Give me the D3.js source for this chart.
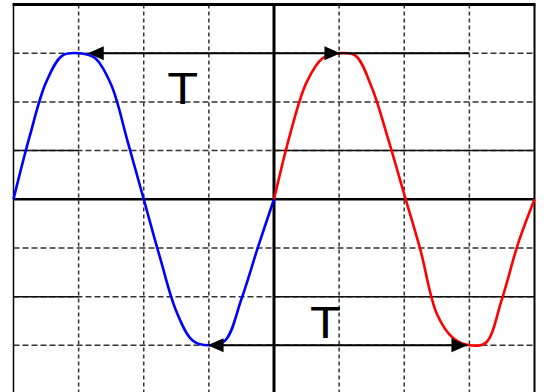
<!DOCTYPE html>
<html>
<head>
<meta charset="utf-8">
<script src="https://cdn.jsdelivr.net/npm/d3@7"></script>
<style>
  body { margin: 0; background: #fff; }
  svg { display: block; }
</style>
</head>
<body>
<svg id="chart"></svg>
<script>
// positions in grid divisions: x 0..8, y -4..4
const waveX = [0, 0.25, 0.5, 0.75, 1, 1.25, 1.5, 1.75, 2, 2.25, 2.5, 2.75, 3, 3.25, 3.5, 3.75, 4];
const blueY = [0, 1.3, 2.4, 2.95, 3, 2.9, 2.35, 1.2, 0, -1.2, -2.3, -2.9, -3, -2.9, -2.05, -1.0, 0];
const redY  = [0, 1.35, 2.4, 2.9, 3, 2.95, 2.3, 1.25, 0.1, -1.05, -2.35, -2.85, -3, -2.95, -2.05, -0.9, 0];
const redOffset = 4;

const gridCols = [1, 2, 3, 5, 6, 7];
const gridRows = [-3, -2, -1, 1, 2, 3];
const solidRows = [1, -2];
const solidSpans = [[0, 1], [4, 8]];

// period arrows: [tipLeft, tipRight, lineEnd]
const arrowTop = [1.14, 5.02, 7];
const arrowBottom = [2.98, 6.97, 6.97];
const labels = ["T", "T"];

const width = 544, height = 392;
const svg = d3.select("#chart").attr("width", width).attr("height", height);

const x = d3.scaleLinear().domain([0, 8]).range([13.5, 534.5]);
const y = d3.scaleLinear().domain([-4, 4]).range([394, 4.5]);

const g = svg.append("g");

// dashed grid
g.selectAll(".vgrid").data(gridCols).enter().append("line")
  .attr("x1", d => x(d)).attr("x2", d => x(d))
  .attr("y1", y(4)).attr("y2", height)
  .attr("stroke", "#333").attr("stroke-width", 1.5)
  .attr("stroke-dasharray", "4,3");

g.selectAll(".hgrid").data(gridRows).enter().append("line")
  .attr("x1", x(0)).attr("x2", x(8))
  .attr("y1", d => y(d)).attr("y2", d => y(d))
  .attr("stroke", "#333").attr("stroke-width", 1.5)
  .attr("stroke-dasharray", "6,3");

// solid pieces of some rows
solidRows.forEach(r => {
  g.selectAll(null).data(solidSpans).enter().append("line")
    .attr("x1", d => x(d[0])).attr("x2", d => x(d[1]))
    .attr("y1", y(r)).attr("y2", y(r))
    .attr("stroke", "#111").attr("stroke-width", 1.5);
});

// axes through centre
g.append("line")
  .attr("x1", x(0)).attr("x2", x(8)).attr("y1", y(0)).attr("y2", y(0))
  .attr("stroke", "#000").attr("stroke-width", 2.5);
g.append("line")
  .attr("x1", x(4)).attr("x2", x(4)).attr("y1", y(4)).attr("y2", height)
  .attr("stroke", "#000").attr("stroke-width", 3);

// frame
g.append("line")
  .attr("x1", x(0)).attr("x2", x(0)).attr("y1", y(4)).attr("y2", height)
  .attr("stroke", "#000").attr("stroke-width", 1.5);
g.append("line")
  .attr("x1", x(8)).attr("x2", x(8)).attr("y1", y(4)).attr("y2", height)
  .attr("stroke", "#000").attr("stroke-width", 2);
g.append("line")
  .attr("x1", x(0) - 1).attr("x2", x(8) + 1).attr("y1", y(4)).attr("y2", y(4))
  .attr("stroke", "#000").attr("stroke-width", 3);

// waves
const line = d3.line()
  .x(d => x(d[0])).y(d => y(d[1]))
  .curve(d3.curveCatmullRom.alpha(0.5));

g.append("path")
  .datum(waveX.map((v, i) => [v, blueY[i]]))
  .attr("d", line)
  .attr("fill", "none").attr("stroke", "#0000ff").attr("stroke-width", 2.6);

g.append("path")
  .datum(waveX.map((v, i) => [v + redOffset, redY[i]]))
  .attr("d", line)
  .attr("fill", "none").attr("stroke", "#ff0000").attr("stroke-width", 2.6);

// arrows
function arrowHead(tip, level, dir) {
  const tx = x(tip), ty = y(level);
  const len = 16, half = 7;
  g.append("path")
    .attr("d", `M${tx},${ty} L${tx + dir * len},${ty - half} L${tx + dir * len},${ty + half} Z`)
    .attr("fill", "#000");
}

function periodArrow(a, level) {
  g.append("line")
    .attr("x1", x(a[0]) + 8).attr("x2", x(a[2]))
    .attr("y1", y(level)).attr("y2", y(level))
    .attr("stroke", "#000").attr("stroke-width", 2);
  arrowHead(a[0], level, 1);
  arrowHead(a[1], level, -1);
}

periodArrow(arrowTop, 3);
periodArrow(arrowBottom, -3);

// labels
const labelPos = [[2.6, 1.95], [4.79, -2.85]];
g.selectAll(".lbl").data(labels).enter().append("text")
  .attr("transform", (d, i) => `translate(${x(labelPos[i][0])},${y(labelPos[i][1])}) scale(1.15,1)`)
  .attr("text-anchor", "middle")
  .attr("font-family", "'Liberation Sans', Arial, sans-serif")
  .attr("font-size", 44)
  .attr("fill", "#000")
  .text(d => d);
</script>
</body>
</html>
